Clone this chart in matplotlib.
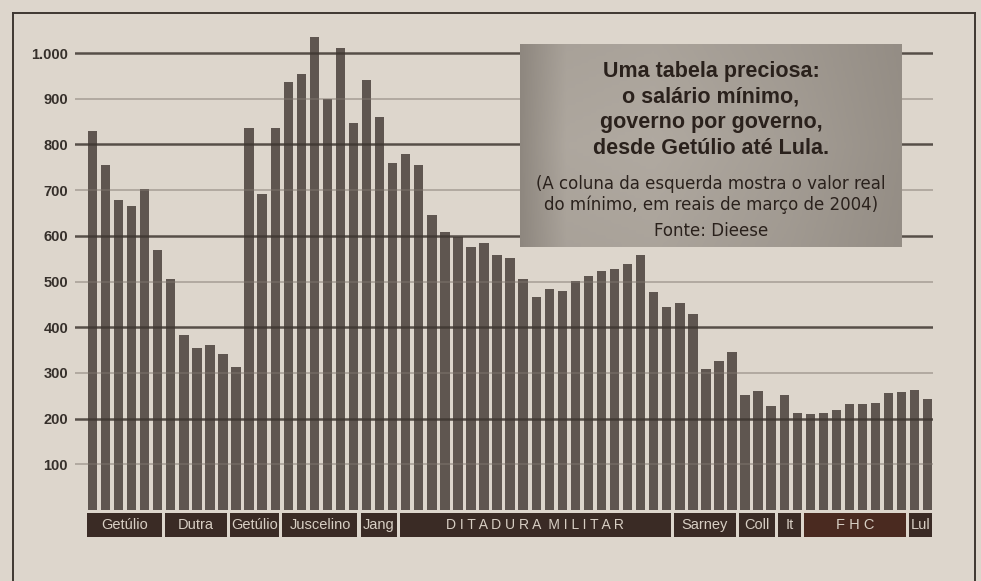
import numpy as np
import matplotlib
matplotlib.use("Agg")
import matplotlib.pyplot as plt
from matplotlib.patches import Rectangle
from matplotlib.colors import LinearSegmentedColormap

# salario minimo real, em reais de marco de 2004 (Dieese)
anos = list(range(1940, 2005))
salario = [830, 755, 678, 666, 702, 568, 506, 383, 354, 362, 342, 313, 835, 691, 835,
           937, 953, 1036, 900, 1010, 846, 940, 859, 760, 780, 755, 646, 608, 598, 576,
           584, 559, 552, 506, 466, 484, 480, 501, 513, 523, 527, 539, 559, 477, 445,
           453, 428, 309, 326, 346, 251, 260, 227, 251, 213, 210, 213, 218, 231, 231,
           235, 255, 259, 263, 244]

# governos: nome, primeiro ano, ultimo ano
governos = ["Getúlio", "Dutra", "Getúlio", "Juscelino", "Jang", "D I T A D U R A  M I L I T A R",
            "Sarney", "Coll", "It", "F H C", "Lul"]
gov_inicio = [1940, 1946, 1951, 1955, 1961, 1964, 1985, 1990, 1993, 1995, 2003]
gov_fim = [1945, 1950, 1954, 1960, 1963, 1984, 1989, 1992, 1994, 2002, 2004]

yticks = [100, 200, 300, 400, 500, 600, 700, 800, 900, 1000]
ytick_labels = ["100", "200", "300", "400", "500", "600", "700", "800", "900", "1.000"]

papel = "#ddd6cc"
fig = plt.figure(figsize=(9.81, 5.81), dpi=100, facecolor=papel)

# moldura
fig.add_artist(plt.Line2D([13/981, 13/981], [0, 1 - 13/581], color="#3e3731", lw=1.4))
fig.add_artist(plt.Line2D([975/981, 975/981], [0, 1 - 13/581], color="#3e3731", lw=1.4))
fig.add_artist(plt.Line2D([13/981, 975/981], [1 - 13/581, 1 - 13/581], color="#3e3731", lw=1.4))

# eixo: 0 em y=510px, 100 = 45.7px
ax = fig.add_axes([75/981, 39/581, 858/981, 516.4/581])
ax.set_facecolor("none")
x = np.array(anos) - 1940
ax.set_xlim(-1.34, 64.4)
ax.set_ylim(-70, 1060)

ax.bar(x, salario, width=0.72, color="#5f5650", zorder=2)

for v in yticks:
    if v % 200 == 0:
        ax.axhline(v, color="#3f3731", lw=1.8, alpha=0.85, zorder=3)
    else:
        ax.axhline(v, color="#80776f", lw=1.1, alpha=0.6, zorder=3)

ax.set_yticks(yticks)
ax.set_yticklabels(ytick_labels, fontsize=10.5, fontweight="bold", color="#36302b",
                   family="Liberation Sans")
ax.tick_params(axis="y", length=0, pad=5)
ax.set_xticks([])
for s in ax.spines.values():
    s.set_visible(False)

# faixas com os governos
for nome, a0, a1 in zip(governos, gov_inicio, gov_fim):
    i0 = a0 - 1940
    i1 = a1 - 1940
    cor = "#4a2a20" if nome == "F H C" else "#3a2b25"
    tam = 10 if nome.startswith("D I") else 10.5
    ax.add_patch(Rectangle((i0 - 0.45, -59), (i1 - i0) + 0.75, 53, facecolor=cor,
                           edgecolor="none", zorder=4, clip_on=False))
    ax.text((i0 + i1) / 2 - 0.07, -33, nome, ha="center", va="center", fontsize=tam,
            color="#d8cfc4", family="Liberation Sans", zorder=5, clip_on=False)

# caixa de texto com degrade
box = fig.add_axes([520/981, (581 - 247)/581, 382/981, 203/581])
cmap = LinearSegmentedColormap.from_list("cx", ["#8a837b", "#bab3aa"])
gx = np.linspace(0, 1, 200)
perfil = np.interp(gx, [0, 0.12, 0.35, 0.7, 1.0], [0.1, 0.75, 0.8, 0.55, 0.25])
gy = np.linspace(0, 1, 60)
grad = np.outer(1 - 0.15 * np.abs(gy - 0.5) * 2, perfil)
box.imshow(grad, cmap=cmap, vmin=0, vmax=1, aspect="auto", extent=[0, 1, 0, 1])
box.set_xlim(0, 1)
box.set_ylim(0, 1)
box.axis("off")

titulo = ["Uma tabela preciosa:", "o salário mínimo,", "governo por governo,",
          "desde Getúlio até Lula."]
for k, linha in enumerate(titulo):
    box.text(0.5, 0.865 - k * 0.127, linha, ha="center", va="center", fontsize=15.5,
             fontweight="bold", color="#2a211c", family="Liberation Sans")

box.text(0.5, 0.31, "(A coluna da esquerda mostra o valor real", ha="center", va="center",
         fontsize=12, color="#2a211c", family="DejaVu Sans")
box.text(0.5, 0.21, "do mínimo, em reais de março de 2004)", ha="center", va="center",
         fontsize=12, color="#2a211c", family="DejaVu Sans")
box.text(0.5, 0.08, "Fonte: Dieese", ha="center", va="center",
         fontsize=12, color="#2a211c", family="DejaVu Sans")

fig.savefig("out.png", dpi=100, facecolor=papel)
